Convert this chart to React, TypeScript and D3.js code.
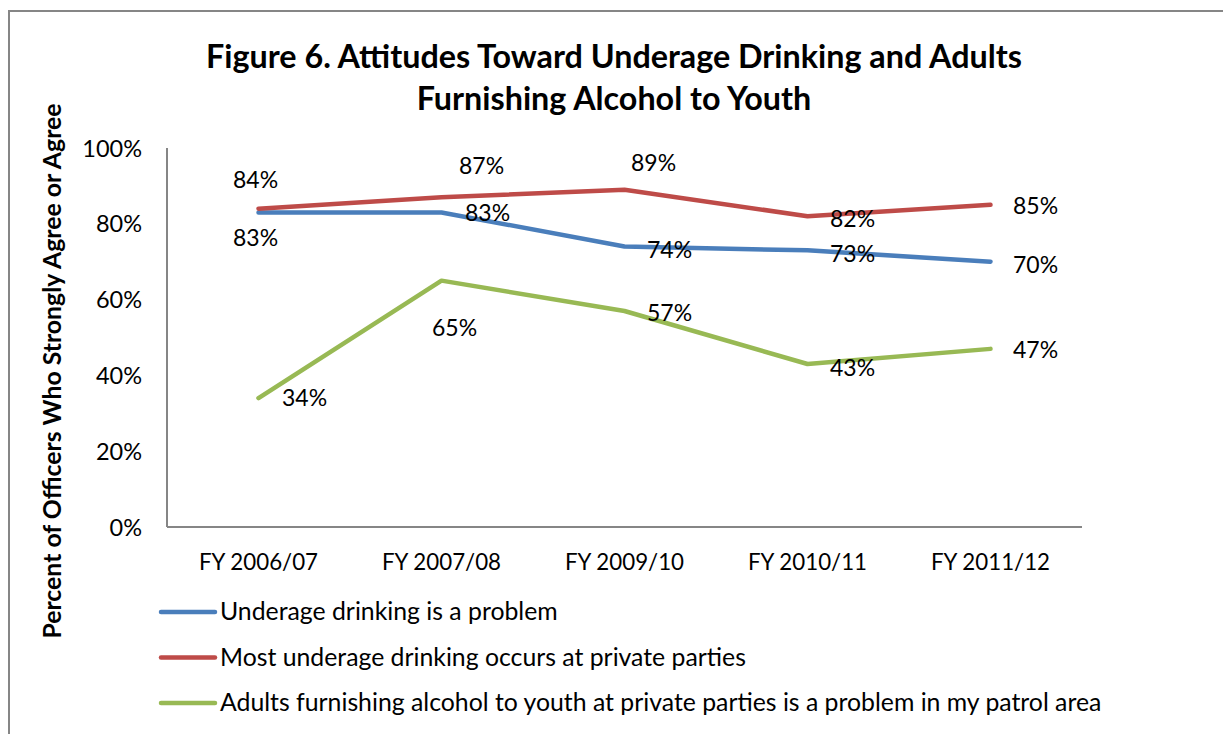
import React from "react";
import * as d3 from "d3";

const categories = ["FY 2006/07", "FY 2007/08", "FY 2009/10", "FY 2010/11", "FY 2011/12"];
const seriesNames = [
  "Underage drinking is a problem",
  "Most underage drinking occurs at private parties",
  "Adults furnishing alcohol to youth at private parties is a problem in my patrol area",
];
const underageProblem = [83, 83, 74, 73, 70];
const privateParties = [84, 87, 89, 82, 85];
const adultsFurnishing = [34, 65, 57, 43, 47];
const yTicks = [0, 20, 40, 60, 80, 100];

const titleLines = ["Figure 6. Attitudes Toward Underage Drinking and Adults", "Furnishing Alcohol to Youth"];
const yAxisTitle = "Percent of Officers Who Strongly Agree or Agree";

const colors = ["#4A7EBB", "#BE4B48", "#98B954"];
// data label offsets (layout only), [dx, dy] of label centre from the point
const labelOffsets = [
  [[-3, 25], [46, 0], [45, 3], [45, 3], [45, 3]],
  [[-3, -29], [40, -32], [29, -27], [45, 2], [45, 1]],
  [[46, 0], [13, 47], [45, 2], [45, 4], [45, 1]],
];

const W = 1223;
const H = 734;
const FONT = "Lato, 'Open Sans', sans-serif";

export default function App() {
  const series = [underageProblem, privateParties, adultsFurnishing];
  const x = d3.scaleBand<string>().domain(categories).range([167, 1082]);
  const y = d3.scaleLinear().domain([0, 100]).range([527, 148]);
  const cx = (i: number) => (x(categories[i]) as number) + x.bandwidth() / 2;
  const line = d3
    .line<number>()
    .x((_, i) => cx(i))
    .y((d) => y(d));

  return (
    <svg
      width={W}
      height={H}
      style={{ position: "absolute", left: 0, top: 0, background: "#fff" }}
      fontFamily={FONT}
    >
      <rect x={0} y={0} width={W} height={H} fill="#fff" />
      <rect x={9} y={11} width={1400} height={1000} fill="none" stroke="#868686" strokeWidth={2} />

      {titleLines.map((t, i) => (
        <text
          key={t}
          x={614}
          y={68 + i * 42}
          textAnchor="middle"
          fontWeight="bold"
          fontSize={32.3}
          fill="#000"
        >
          {t}
        </text>
      ))}

      <text
        transform={`translate(61, 371) rotate(-90)`}
        textAnchor="middle"
        fontWeight="bold"
        fontSize={24.8}
        fill="#000"
      >
        {yAxisTitle}
      </text>

      {/* axes */}
      <line x1={167} x2={167} y1={y(100)} y2={y(0)} stroke="#868686" strokeWidth={2} />
      <line x1={167} x2={1082} y1={y(0)} y2={y(0)} stroke="#868686" strokeWidth={2} />

      {yTicks.map((t) => (
        <text key={t} x={142} y={y(t) + 8.5} textAnchor="end" fontSize={23.5} fill="#000">
          {t}%
        </text>
      ))}
      {categories.map((c, i) => (
        <text key={c} x={cx(i)} y={570} textAnchor="middle" fontSize={22.3} fill="#000">
          {c}
        </text>
      ))}

      {series.map((s, si) => (
        <path
          key={si}
          d={line(s) as string}
          fill="none"
          stroke={colors[si]}
          strokeWidth={4.5}
          strokeLinejoin="round"
          strokeLinecap="round"
        />
      ))}

      {series.map((s, si) =>
        s.map((v, i) => (
          <text
            key={`${si}-${i}`}
            x={cx(i) + labelOffsets[si][i][0]}
            y={y(v) + labelOffsets[si][i][1] + 8.3}
            textAnchor="middle"
            fontSize={23}
            fill="#000"
          >
            {v}%
          </text>
        ))
      )}

      {seriesNames.map((n, i) => (
        <g key={n}>
          <line
            x1={161}
            x2={215}
            y1={612 + i * 45.5}
            y2={612 + i * 45.5}
            stroke={colors[i]}
            strokeWidth={4.5}
            strokeLinecap="round"
          />
          <text x={220} y={620 + i * 45.5} fontSize={24.8} fill="#000">
            {n}
          </text>
        </g>
      ))}
    </svg>
  );
}
